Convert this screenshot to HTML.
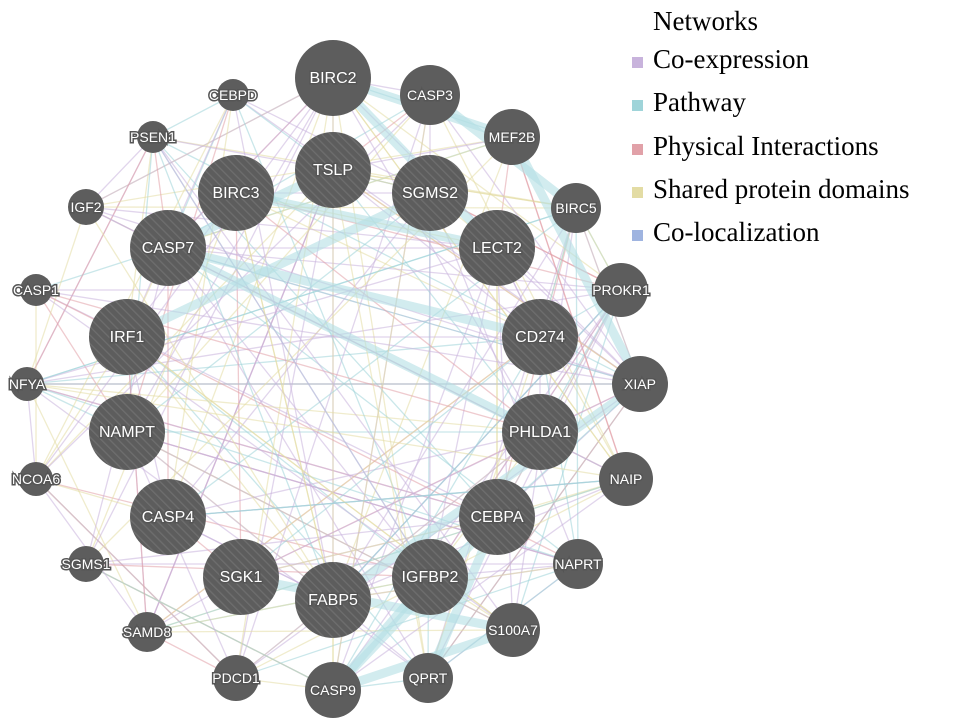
<!DOCTYPE html>
<html><head><meta charset="utf-8"><style>
html,body{margin:0;padding:0;background:#fff;width:957px;height:722px;overflow:hidden}
svg{position:absolute;left:0;top:0}
.lg{position:absolute;left:653px;font-family:"Liberation Serif",serif;font-size:27px;color:#000;line-height:1}
.sq{position:absolute;left:632px;width:11px;height:11px}
</style></head><body>
<svg id="s" width="957" height="722" xmlns="http://www.w3.org/2000/svg">
<defs><pattern id="h" width="6" height="6" patternUnits="userSpaceOnUse" patternTransform="rotate(-45)"><rect width="6" height="6" fill="#5d5d5d"/><rect width="1.3" height="6" fill="#6e6e6e"/></pattern></defs>
<g id="e"></g><g id="n"></g>
</svg>
<div class="lg" style="top:8px">Networks</div>
<div class="sq" style="top:57px;background:#c8b3dc"></div><div class="lg" style="top:46px">Co-expression</div>
<div class="sq" style="top:100px;background:#9fd4d9"></div><div class="lg" style="top:89px">Pathway</div>
<div class="sq" style="top:144px;background:#e1a1a8"></div><div class="lg" style="top:133px">Physical Interactions</div>
<div class="sq" style="top:187px;background:#e3dca4"></div><div class="lg" style="top:176px">Shared protein domains</div>
<div class="sq" style="top:230px;background:#9fb4e0"></div><div class="lg" style="top:219px">Co-localization</div>
<script>
var N=[["BIRC2",333,78,38,0],["TSLP",333,170,38,1],["BIRC3",236,193,38,1],["SGMS2",430,193,38,1],["CASP7",168,248,38,1],["LECT2",497,248,38,1],["IRF1",127,337,38,1],["CD274",540,337,38,1],["NAMPT",127,432,38,1],["PHLDA1",540,432,38,1],["CASP4",168,517,38,1],["CEBPA",497,517,38,1],["SGK1",241,577,38,1],["IGFBP2",430,577,38,1],["FABP5",333,600,38,1],
["CEBPD",233,95,16,0],["CASP3",430,95,30,0],["MEF2B",512,137,28,0],["PSEN1",153,137,16,0],["BIRC5",576,208,25,0],["IGF2",86,207,18,0],["PROKR1",621,290,27,0],["CASP1",36,290,16,0],["XIAP",640,384,28,0],["NFYA",27,384,17,0],["NAIP",626,479,27,0],["NCOA6",36,479,17,0],["NAPRT",578,564,25,0],["SGMS1",86,564,18,0],["S100A7",513,630,27,0],["SAMD8",147,632,20,0],["QPRT",428,678,25,0],["PDCD1",236,678,23,0],["CASP9",333,690,28,0]];
var ns="http://www.w3.org/2000/svg",E=document.getElementById("e"),G=document.getElementById("n");
var seed=7;function r(){seed=(seed*16807)%2147483647;return seed/2147483647}
function ln(a,b,c,w,o){var l=document.createElementNS(ns,"line");l.setAttribute("x1",N[a][1]);l.setAttribute("y1",N[a][2]);l.setAttribute("x2",N[b][1]);l.setAttribute("y2",N[b][2]);l.setAttribute("stroke",c);l.setAttribute("stroke-width",w);l.setAttribute("stroke-opacity",o);E.appendChild(l)}
var C=["#c8b3dc","#e3dca4","#e1a1a8","#9fd4d9","#e3dca4","#c8b3dc"];
for(var i=0;i<260;i++){var a=Math.floor(r()*N.length),b=Math.floor(r()*N.length);if(a!=b)ln(a,b,C[Math.floor(r()*C.length)],1.3,0.55)}
var T=[[4,7],[4,9],[0,17],[16,19],[33,29],[33,13],[14,23],[11,31],[4,1],[2,5],[0,5],[17,23],[33,11],[12,29],[6,3]];
T.forEach(function(t){ln(t[0],t[1],"#b4e0e4",9,0.6)});
N.forEach(function(d){var c=document.createElementNS(ns,"circle");c.setAttribute("cx",d[1]);c.setAttribute("cy",d[2]);c.setAttribute("r",d[3]);c.setAttribute("fill",d[4]?"url(#h)":"#5d5d5d");G.appendChild(c);
var t=document.createElementNS(ns,"text");t.setAttribute("x",d[1]);t.setAttribute("y",d[2]+5);t.setAttribute("text-anchor","middle");t.setAttribute("font-family","Liberation Sans, sans-serif");t.setAttribute("font-size",d[3]>30?16:14);t.setAttribute("fill","#fff");t.setAttribute("stroke","#555");t.setAttribute("stroke-width","3");t.setAttribute("paint-order","stroke");t.textContent=d[0];G.appendChild(t)});
</script>
</body></html>
